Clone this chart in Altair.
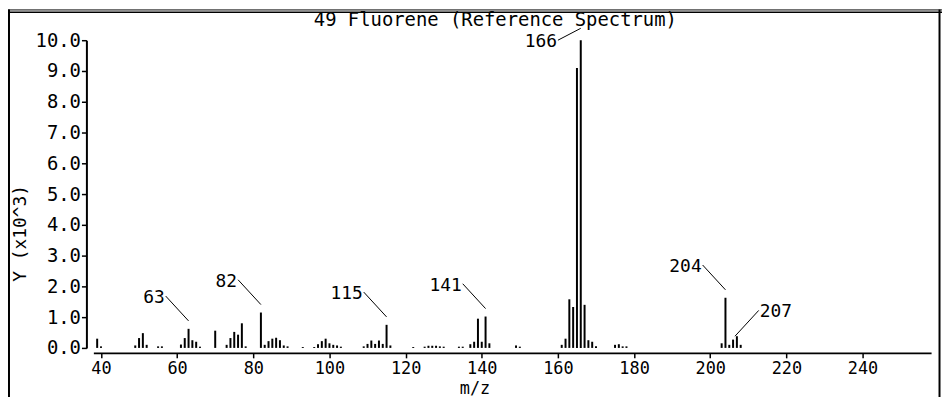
import altair as alt
import pandas as pd

# ---- data (intensity in units of 10^3) ----
mz = [39, 40, 49, 50, 51, 52, 55, 56,
      61, 62, 63, 64, 65, 66, 70,
      73, 74, 75, 76, 77, 78,
      82, 83, 84, 85, 86, 87, 88, 89, 93, 96,
      97, 98, 99, 100, 101, 102, 103,
      109, 110, 111, 112, 113, 114, 115, 116,
      122, 125, 126, 127, 128, 129, 130, 134, 135,
      137, 138, 139, 140, 141, 142, 149, 150,
      161, 162, 163, 164, 165, 166, 167, 168, 169, 170,
      175, 176, 177, 178,
      203, 204, 205, 206, 207, 208]
intensity = [0.30, 0.05, 0.08, 0.32, 0.48, 0.10, 0.05, 0.05,
             0.11, 0.32, 0.62, 0.25, 0.20, 0.04, 0.56,
             0.10, 0.32, 0.52, 0.43, 0.80, 0.05,
             1.15, 0.10, 0.22, 0.30, 0.33, 0.25, 0.08, 0.05, 0.03, 0.03,
             0.12, 0.22, 0.30, 0.15, 0.10, 0.08, 0.04,
             0.05, 0.13, 0.24, 0.13, 0.24, 0.13, 0.75, 0.08,
             0.03, 0.04, 0.07, 0.07, 0.07, 0.05, 0.04, 0.04, 0.04,
             0.12, 0.20, 0.95, 0.20, 1.02, 0.15, 0.08, 0.04,
             0.10, 0.30, 1.58, 1.33, 9.10, 10.0, 1.40, 0.25, 0.20, 0.05,
             0.10, 0.12, 0.05, 0.05,
             0.15, 1.63, 0.10, 0.27, 0.38, 0.10]
label_mz = [63, 82, 115, 141, 166, 204, 207]
label_side = ["ul", "ul", "ul", "ul", "l", "ul", "ur"]
x_ticks = [40, 60, 80, 100, 120, 140, 160, 180, 200, 220, 240]
y_ticks = [0, 1, 2, 3, 4, 5, 6, 7, 8, 9, 10]
title_text = "49 Fluorene (Reference Spectrum)"
x_title = "m/z"
y_title = "Y (x10^3)"

# ---- layout ----
MONO = "DejaVu Sans Mono"
W, H = 844, 310
X_MIN, X_MAX = 38, 258
Y_MIN, Y_MAX = 0, 10
PX_X = W / (X_MAX - X_MIN)
PX_Y = H / (Y_MAX - Y_MIN)

peaks = pd.DataFrame({"mz": mz, "y": intensity})
lookup = dict(zip(mz, intensity))

rows = []
for m, side in zip(label_mz, label_side):
    top = lookup[m]
    if side == "ul":
        x1, y1 = m, top + 8 / PX_Y
        x2, y2 = m - 23 / PX_X, top + 33 / PX_Y
        al = "right"
    elif side == "l":
        x1, y1 = m, top + 12 / PX_Y
        x2, y2 = m - 23 / PX_X, top
        al = "right"
    else:
        x1, y1 = m - 0.5, top
        x2, y2 = m + 22 / PX_X, top + 26 / PX_Y
        al = "left"
    rows.append(dict(mz=m, x1=x1, y1=y1, x2=x2, y2=y2, label=str(m), al=al))
labels = pd.DataFrame(rows)

xs = alt.Scale(domain=[X_MIN, X_MAX], nice=False, zero=False)
ys = alt.Scale(domain=[Y_MIN, Y_MAX], nice=False)

x_axis = alt.Axis(values=x_ticks, format="d", offset=5, tickSize=5, tickWidth=1.5,
                  domainWidth=2, labelPadding=3, labelFont=MONO, labelFontSize=17,
                  labelOverlap=False, labelColor="black", domainColor="black",
                  tickColor="black", titleColor="black",
                  titleFont=MONO, titleFontSize=17, titleFontWeight="normal",
                  titleX=384, titleY=36, titleBaseline="middle", titleAlign="center",
                  grid=False)
y_axis = alt.Axis(values=y_ticks, format=".1f", offset=7, tickSize=5, tickWidth=1.5,
                  domainWidth=2, labelPadding=1, labelFont=MONO, labelFontSize=19,
                  labelOverlap=False, labelColor="black", domainColor="black",
                  tickColor="black", titleColor="black",
                  titleFont=MONO, titleFontSize=18, titleFontWeight="normal",
                  titleAngle=270, titleX=-66, titleY=194, titleBaseline="middle",
                  titleAlign="center", grid=False)


def X(field):
    return alt.X(field, type="quantitative", scale=xs, axis=x_axis, title=x_title)


def Y(field):
    return alt.Y(field, type="quantitative", scale=ys, axis=y_axis, title=y_title)


bars = alt.Chart(peaks).mark_rule(color="black", strokeWidth=2).encode(
    x=X("mz"), y=Y("y"), y2=alt.datum(0),
)

leaders = alt.Chart(labels).mark_rule(color="black", strokeWidth=1).encode(
    x=X("x1"), y=Y("y1"), x2="x2:Q", y2="y2:Q",
)

text_r = alt.Chart(labels).transform_filter(alt.datum.al == "right").mark_text(
    align="right", baseline="middle", dx=-1, dy=2, font=MONO, fontSize=18, color="black"
).encode(x=X("x2"), y=Y("y2"), text="label:N")

text_l = alt.Chart(labels).transform_filter(alt.datum.al == "left").mark_text(
    align="left", baseline="middle", dx=1, dy=2, font=MONO, fontSize=18, color="black"
).encode(x=X("x2"), y=Y("y2"), text="label:N")

# panel frame and heading (decoration)
one = pd.DataFrame({"k": [0]})
frame_left = alt.Chart(one).mark_rule(color="black", strokeWidth=2).encode(
    x=alt.value(-85), y=alt.value(-31), y2=alt.value(360))
frame_right = alt.Chart(one).mark_rule(color="black", strokeWidth=2).encode(
    x=alt.value(852.5), y=alt.value(-31), y2=alt.value(360))
frame_top = alt.Chart(one).mark_rule(color="black", strokeWidth=1.5).encode(
    x=alt.value(-86), x2=alt.value(856), y=alt.value(-28.25))
frame_band = alt.Chart(one).mark_rule(color="black", strokeWidth=1).encode(
    x=alt.value(-86), x2=alt.value(856), y=alt.value(-30.5))
heading = alt.Chart(one).mark_text(
    align="center", baseline="alphabetic", font=MONO, fontSize=19, color="black"
).encode(x=alt.value(405), y=alt.value(-14), text=alt.value(title_text))

chart = alt.layer(
    bars, leaders, text_r, text_l,
    frame_band, frame_top, frame_left, frame_right, heading,
).properties(
    width=W, height=H,
    background="white",
    autosize=alt.AutoSizeParams(type="none"),
    padding={"left": 86, "top": 31, "right": 11, "bottom": 48},
).configure_view(strokeWidth=0, stroke="transparent").configure_axis(grid=False)

chart.save("out.html", embed_options={"renderer": "svg", "actions": False})
